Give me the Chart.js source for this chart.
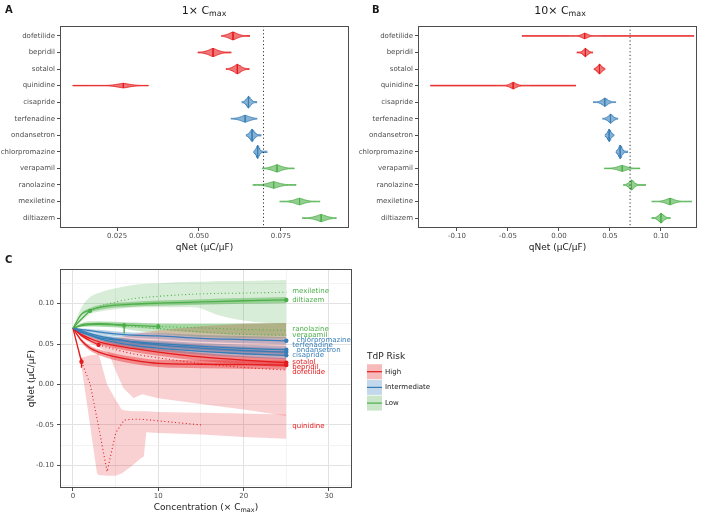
<!DOCTYPE html>
<html><head><meta charset="utf-8">
<script src="https://cdn.jsdelivr.net/npm/chart.js@4.4.1/dist/chart.umd.min.js"></script>
<style>
body{margin:0;width:708px;height:515px;position:relative;background:#fff;font-family:"DejaVu Sans",sans-serif;overflow:hidden}
canvas{position:absolute}
.t{position:absolute;color:#1a1a1a;white-space:nowrap;line-height:13px}
.c{transform:translateX(-50%)}
sub{font-size:0.72em;vertical-align:-0.3em;line-height:0}
</style></head><body>
<canvas id="cA" width="352" height="262" style="left:0;top:0;width:352px;height:262px"></canvas>
<canvas id="cB" width="356" height="262" style="left:352px;top:0;width:356px;height:262px"></canvas>
<canvas id="cC" width="708" height="253" style="left:0;top:262px;width:708px;height:253px"></canvas>
<div class="t" style="left:5px;top:3px;font-weight:bold;font-size:10px">A</div>
<div class="t" style="left:372px;top:3px;font-weight:bold;font-size:10px">B</div>
<div class="t" style="left:5px;top:253px;font-weight:bold;font-size:10px">C</div>
<div class="t c" style="left:204px;top:4px;font-size:11px">1× C<sub>max</sub></div>
<div class="t c" style="left:560px;top:4px;font-size:11px">10× C<sub>max</sub></div>
<div class="t c" style="left:206px;top:501px;font-size:9px">Concentration (× C<sub>max</sub>)</div>
<script>
// ---------------- DATA ----------------
const DRUGS = ['dofetilide','bepridil','sotalol','quinidine','cisapride','terfenadine','ondansetron','chlorpromazine','verapamil','ranolazine','mexiletine','diltiazem'];
const RISK  = ['High','High','High','High','Intermediate','Intermediate','Intermediate','Intermediate','Low','Low','Low','Low'];
const CONTROL = 0.0697;

// Panel A (1x Cmax): median, min, max, core half-width, violin half-height
const A_MED  = [0.0604,0.0543,0.0617,0.0269,0.0651,0.0641,0.0662,0.0679,0.0738,0.0728,0.0807,0.0873];
const A_MIN  = [0.0568,0.0496,0.0582,0.0114,0.0630,0.0597,0.0643,0.0666,0.0693,0.0664,0.0746,0.0815];
const A_MAX  = [0.0656,0.0599,0.0654,0.0347,0.0678,0.0678,0.0691,0.0709,0.0793,0.0797,0.0870,0.0920];
const A_CORE = [0.0031,0.0034,0.0026,0.0046,0.0015,0.0033,0.0016,0.0011,0.0034,0.0039,0.0035,0.0036];
const A_HALF = [0.24,0.25,0.29,0.14,0.35,0.21,0.37,0.40,0.22,0.20,0.20,0.22];
const A_XTICKS = [0.025,0.050,0.075];

// Panel B (10x Cmax)
const B_MED  = [0.0252,0.0259,0.0397,-0.0449,0.0449,0.0505,0.0492,0.0600,0.0620,0.0711,0.1089,0.1000];
const B_MIN  = [-0.0364,0.0174,0.0341,-0.1262,0.0334,0.0426,0.0449,0.0557,0.0443,0.0630,0.0908,0.0908];
const B_MAX  = [0.1325,0.0334,0.0456,0.0167,0.0564,0.0580,0.0548,0.0679,0.0797,0.0852,0.1302,0.1098];
const B_CORE = [0.0066,0.0049,0.0049,0.0072,0.0066,0.0056,0.0039,0.0039,0.0105,0.0056,0.0098,0.0056];
const B_HALF = [0.17,0.25,0.29,0.20,0.25,0.27,0.37,0.41,0.18,0.30,0.20,0.30];
const B_XTICKS = [-0.10,-0.05,0.00,0.05,0.10];

// Panel C: concentration-response
const C_X = [0,1,2,3,5,7,10,15,20,25];
const DILT_MED = [0.0695,0.087,0.092,0.095,0.098,0.0993,0.1005,0.102,0.1035,0.1045];
const DILT_LO  = [0.0695,0.0855,0.0895,0.0922,0.095,0.0962,0.0972,0.0985,0.0998,0.1008];
const DILT_HI  = [0.0695,0.0885,0.0945,0.0978,0.101,0.1024,0.1038,0.1055,0.107,0.1082];
const CHLO_MED = [0.0695,0.0679,0.0665,0.065,0.0625,0.061,0.060,0.057,0.0555,0.054];
const CHLO_LO  = [0.0695,0.0665,0.0645,0.0625,0.0595,0.0578,0.0563,0.0528,0.0510,0.0495];
const CHLO_HI  = [0.0695,0.0693,0.0685,0.0675,0.0655,0.0642,0.0637,0.0612,0.0600,0.0585];
const TERF_MED = [0.0695,0.0641,0.061,0.058,0.055,0.053,0.0505,0.047,0.0445,0.043];
const TERF_LO  = [0.0695,0.0625,0.059,0.0555,0.052,0.0497,0.0468,0.0428,0.0400,0.0383];
const TERF_HI  = [0.0695,0.0657,0.063,0.0605,0.058,0.0563,0.0542,0.0512,0.0490,0.0477];
const ONDA_MED = [0.0695,0.0662,0.063,0.060,0.056,0.0525,0.049,0.045,0.042,0.040];
const ONDA_LO  = [0.0695,0.0648,0.061,0.0577,0.053,0.0492,0.0453,0.0408,0.0375,0.0353];
const ONDA_HI  = [0.0695,0.0676,0.065,0.0623,0.059,0.0558,0.0527,0.0492,0.0465,0.0447];
const CISA_MED = [0.0695,0.0651,0.061,0.057,0.052,0.0485,0.045,0.041,0.038,0.036];
const CISA_LO  = [0.0695,0.0637,0.059,0.0547,0.049,0.0452,0.0413,0.0368,0.0335,0.0313];
const CISA_HI  = [0.0695,0.0665,0.063,0.0593,0.055,0.0518,0.0487,0.0452,0.0425,0.0407];
const SOTA_MED = [0.0695,0.0617,0.057,0.053,0.048,0.0445,0.040,0.034,0.030,0.027];
const SOTA_LO  = [0.0695,0.0600,0.0545,0.050,0.0445,0.0405,0.0355,0.029,0.0248,0.0215];
const SOTA_HI  = [0.0695,0.0634,0.0595,0.056,0.0515,0.0485,0.0445,0.039,0.0352,0.0325];
const BEPR_MED = [0.0695,0.0543,0.045,0.040,0.034,0.030,0.026,0.025,0.0245,0.024];
const BEPR_LO  = [0.0695,0.0520,0.042,0.0365,0.030,0.0257,0.0215,0.020,0.0193,0.0185];
const BEPR_HI  = [0.0695,0.0566,0.048,0.0435,0.038,0.0343,0.0305,0.030,0.0297,0.0295];

const VERA_SX = [0,1,2,3,4,5,6];
const VERA_SY = [0.0695,0.0738,0.075,0.0752,0.0748,0.074,0.073];
const VERA_DX = [6,8,10,15,20,25];
const VERA_DY = [0.073,0.071,0.069,0.065,0.062,0.061];
const VERA_BX = [0,1,2,3,5,6,7,10,15,20,25];
const VERA_LO = [0.0695,0.0715,0.072,0.0718,0.0705,0.069,0.067,0.063,0.059,0.0575,0.057];
const VERA_HI = [0.0695,0.076,0.078,0.078,0.0775,0.077,0.0765,0.0755,0.0755,0.0758,0.076];

const RANO_SX = [0,1,2,3,5,7,10];
const RANO_SY = [0.0695,0.0728,0.074,0.0742,0.0738,0.073,0.0716];
const RANO_DX = [10,15,20,25];
const RANO_DY = [0.0716,0.070,0.068,0.067];
const RANO_BX = [0,1,2,3,5,7,10,15,20,25];
const RANO_LO = [0.0695,0.0712,0.0718,0.0718,0.0712,0.070,0.068,0.064,0.0615,0.060];
const RANO_HI = [0.0695,0.0745,0.0762,0.0768,0.0765,0.076,0.075,0.0748,0.0748,0.075];

const MEXI_SX = [0,1,2];
const MEXI_SY = [0.0695,0.081,0.091];
const MEXI_DX = [2,3,5,7,10,15,20,25];
const MEXI_DY = [0.091,0.096,0.102,0.106,0.109,0.112,0.113,0.114];
const MEXI_BX = [0,1,2,3,5,7,10,14,15,17,20,25];
const MEXI_LO = [0.0695,0.078,0.087,0.090,0.093,0.095,0.0955,0.0955,0.094,0.086,0.079,0.074];
const MEXI_HI = [0.0695,0.095,0.108,0.113,0.119,0.123,0.125,0.127,0.127,0.128,0.128,0.129];

const DOFE_SX = [0,1,2,3];
const DOFE_SY = [0.0695,0.0604,0.054,0.049];
const DOFE_DX = [3,5,7,10,15,20,25];
const DOFE_DY = [0.049,0.043,0.038,0.033,0.026,0.021,0.0178];
const DOFE_BX = [0,1,2,3,4,4.3,5,5.9,7.1,8.1,10,15,20,25];
const DOFE_LO = [0.0695,0.058,0.051,0.046,0.040,0.036,0.017,-0.0045,-0.0166,-0.012,-0.017,-0.024,-0.031,-0.039];
const DOFE_HI = [0.0695,0.063,0.057,0.052,0.054,0.055,0.057,0.059,0.062,0.064,0.067,0.072,0.075,0.076];

const QUIN_SX = [0,1];
const QUIN_SY = [0.0695,0.028];
const QUIN_DX = [1,2,3,4,5,6,7,8,10,15];
const QUIN_DY = [0.028,0.001,-0.052,-0.108,-0.060,-0.044,-0.043,-0.043,-0.045,-0.050];
const QUIN_BX = [0,1,2,2.8,3,4,5,5.7,6,7,8,8.3,8.6,10,15,20,25];
const QUIN_LO = [0.0695,0.022,-0.05,-0.109,-0.112,-0.113,-0.113,-0.110,-0.108,-0.100,-0.091,-0.089,-0.059,-0.060,-0.062,-0.065,-0.067];
const QUIN_HI = [0.0695,0.033,0.036,0.037,0.038,0.0,-0.019,-0.031,-0.032,-0.033,-0.033,-0.033,-0.033,-0.034,-0.035,-0.036,-0.037];

// point ranges
const MARK_DRUG = ['quinidine','dofetilide','mexiletine','verapamil','ranolazine','diltiazem','chlorpromazine','terfenadine','ondansetron','cisapride','sotalol','bepridil'];
const MARK_X  = [1,3,2,6,10,25,25,25,25,25,25,25];
const MARK_Y  = [0.028,0.049,0.091,0.073,0.0716,0.1045,0.054,0.043,0.040,0.036,0.027,0.024];
const MARK_LO = [0.0206,0.047,0.089,0.063,0.069,0.1035,0.053,0.041,0.0375,0.034,0.025,0.0215];
const MARK_HI = [0.032,0.051,0.093,0.076,0.075,0.1055,0.0555,0.045,0.0425,0.038,0.029,0.0265];

// text labels at line ends
const C_LABELS = ['mexiletine','diltiazem','ranolazine','verapamil','chlorpromazine','terfenadine','ondansetron','cisapride','sotalol','bepridil','dofetilide','quinidine'];
const C_LABEL_X = [25.7,25.7,25.7,25.7,26.2,25.7,26.2,25.7,25.7,25.7,25.7,25.7];
const C_LABEL_Y = [0.115,0.1047,0.0683,0.061,0.0542,0.0482,0.0421,0.036,0.0279,0.0218,0.0149,-0.0518];
const C_XTICKS = [0,5,10,15,20,25,30];
const C_YTICKS = [-0.125,-0.1,-0.075,-0.05,-0.025,0,0.025,0.05,0.075,0.1,0.125];
const LEGEND_ITEMS = ['High','Intermediate','Low'];

// ---------------- STYLE ----------------
const RISK_COLOR = {High:'#E41A1C', Intermediate:'#377EB8', Low:'#4DAF4A'};
const riskOf = name => RISK[DRUGS.indexOf(name)];
function rgba(hex,a){const n=parseInt(hex.slice(1),16);return 'rgba('+(n>>16)+','+((n>>8)&255)+','+(n&255)+','+a+')';}
Chart.defaults.font.family = '"DejaVu Sans", sans-serif';
Chart.defaults.color = '#4D4D4D';
const TICKFONT = {size:7};

const framePlugin = {
  id:'frame',
  afterDraw(chart){
    const {ctx, chartArea:a} = chart;
    ctx.save(); ctx.strokeStyle='#4D4D4D'; ctx.lineWidth=1;
    ctx.strokeRect(Math.round(a.left)+0.5, Math.round(a.top)+0.5, Math.round(a.right-a.left)-1, Math.round(a.bottom-a.top)-1);
    ctx.restore();
  }
};

// violin outline (shape only) from the read summary values
function profile(c, lo, hi, w){
  const xs=[lo,hi,c];
  const N=22;
  for(let i=1;i<=N;i++){const d=(i/N)*2.3*w; if(c-d>lo) xs.push(c-d); if(c+d<hi) xs.push(c+d);}
  xs.sort((a,b)=>a-b);
  return xs.map(x=>({x, h:Math.max(Math.exp(-2*Math.pow(Math.abs(x-c)/w,1.4)),0.1)}));
}
function buildViolins(MED,MIN,MAX,CORE,HALF){
  const ds=[];
  DRUGS.forEach((name,i)=>{
    const col=RISK_COLOR[RISK[i]];
    const p=profile(MED[i],MIN[i],MAX[i],CORE[i]);
    ds.push({label:name, data:p.map(q=>({x:q.x,y:i-HALF[i]*q.h})), borderColor:col, borderWidth:0.8, backgroundColor:rgba(col,0.6), fill:'+1', order:2});
    ds.push({label:name+'-lo', data:p.map(q=>({x:q.x,y:i+HALF[i]*q.h})), borderColor:col, borderWidth:0.8, fill:false, order:2});
    ds.push({label:name+'-med', data:[{x:MED[i],y:i-HALF[i]},{x:MED[i],y:i+HALF[i]}], borderColor:col, borderWidth:0.9, fill:false, order:1});
  });
  ds.push({label:'control', data:[{x:CONTROL,y:-0.6},{x:CONTROL,y:11.6}], borderColor:'#333', borderWidth:1, borderDash:[1.2,2.4], fill:false, order:0});
  return ds;
}
function violinConfig(datasets, xmin, xmax, xticks, fmt, yw, padR){
  return {
    type:'line',
    data:{datasets},
    options:{
      animation:false, responsive:false, events:[],
      layout:{padding:{top:26,right:padR,left:0,bottom:0}},
      elements:{point:{radius:0}, line:{tension:0}},
      plugins:{legend:{display:false}, tooltip:{enabled:false}},
      scales:{
        x:{type:'linear', min:xmin, max:xmax,
           afterBuildTicks:s=>{s.ticks=xticks.map(v=>({value:v}));},
           afterFit:s=>{s.height=34;},
           ticks:{font:TICKFONT, color:'#4D4D4D', padding:1, maxRotation:0, autoSkip:false, callback:v=>fmt(v)},
           grid:{drawOnChartArea:false, drawTicks:true, tickLength:3, tickColor:'#4D4D4D'},
           border:{display:false},
           title:{display:true, text:'qNet (µC/µF)', color:'#1a1a1a', font:{size:9}, padding:{top:0,bottom:8.6}}},
        y:{type:'linear', reverse:true, min:-0.6, max:11.6,
           afterBuildTicks:s=>{s.ticks=DRUGS.map((d,i)=>({value:i}));},
           afterFit:s=>{s.width=yw;},
           ticks:{font:TICKFONT, color:'#4D4D4D', padding:2, autoSkip:false, callback:v=>DRUGS[v]},
           grid:{drawOnChartArea:false, drawTicks:true, tickLength:3, tickColor:'#4D4D4D'},
           border:{display:false}}
      }
    },
    plugins:[framePlugin]
  };
}
new Chart(document.getElementById('cA'), violinConfig(buildViolins(A_MED,A_MIN,A_MAX,A_CORE,A_HALF), 0.00756, 0.0958, A_XTICKS, v=>v.toFixed(3), 60, 3));
new Chart(document.getElementById('cB'), violinConfig(buildViolins(B_MED,B_MIN,B_MAX,B_CORE,B_HALF), -0.1382, 0.1353, B_XTICKS, v=>v.toFixed(2), 66, 11));

// ---------------- PANEL C ----------------
const cds=[];
function pts(x,y){return x.map((v,i)=>({x:v,y:y[i]}));}
function addBand(x,lo,hi,col,a,smooth){
  const mode = smooth?'monotone':'default';
  cds.push({data:pts(x,hi), borderColor:'transparent', borderWidth:0, backgroundColor:rgba(col,a), fill:'+1', order:6, cubicInterpolationMode:mode});
  cds.push({data:pts(x,lo), borderColor:'transparent', borderWidth:0, fill:false, order:6, cubicInterpolationMode:mode});
}
function addLine(x,y,col,dotted,smooth){
  cds.push({data:pts(x,y), borderColor:col, borderWidth:dotted?1.1:1.3, borderDash:dotted?[1,2.6]:[], fill:false, order:3, cubicInterpolationMode:smooth?'monotone':'default'});
}
const R=RISK_COLOR.High, Bl=RISK_COLOR.Intermediate, G=RISK_COLOR.Low;
addBand(QUIN_BX,QUIN_LO,QUIN_HI,R,0.2,false);
addBand(DOFE_BX,DOFE_LO,DOFE_HI,R,0.2,false);
addBand(MEXI_BX,MEXI_LO,MEXI_HI,G,0.22,true);
addBand(VERA_BX,VERA_LO,VERA_HI,G,0.3,true);
addBand(RANO_BX,RANO_LO,RANO_HI,G,0.3,true);
addBand(C_X,DILT_LO,DILT_HI,G,0.45,true);
addBand(C_X,CHLO_LO,CHLO_HI,Bl,0.35,true);
addBand(C_X,TERF_LO,TERF_HI,Bl,0.35,true);
addBand(C_X,ONDA_LO,ONDA_HI,Bl,0.35,true);
addBand(C_X,CISA_LO,CISA_HI,Bl,0.35,true);
addBand(C_X,SOTA_LO,SOTA_HI,R,0.4,true);
addBand(C_X,BEPR_LO,BEPR_HI,R,0.4,true);
addLine(C_X,DILT_MED,G,false,true);
addLine(C_X,CHLO_MED,Bl,false,true);
addLine(C_X,TERF_MED,Bl,false,true);
addLine(C_X,ONDA_MED,Bl,false,true);
addLine(C_X,CISA_MED,Bl,false,true);
addLine(C_X,SOTA_MED,R,false,true);
addLine(C_X,BEPR_MED,R,false,true);
addLine(VERA_SX,VERA_SY,G,false,true); addLine(VERA_DX,VERA_DY,G,true,true);
addLine(RANO_SX,RANO_SY,G,false,true); addLine(RANO_DX,RANO_DY,G,true,true);
addLine(MEXI_SX,MEXI_SY,G,false,true); addLine(MEXI_DX,MEXI_DY,G,true,true);
addLine(DOFE_SX,DOFE_SY,R,false,true); addLine(DOFE_DX,DOFE_DY,R,true,true);
addLine(QUIN_SX,QUIN_SY,R,false,false); addLine(QUIN_DX,QUIN_DY,R,true,false);
['High','Intermediate','Low'].forEach(rk=>{
  const col=RISK_COLOR[rk]; const seg=[]; const mk=[];
  MARK_DRUG.forEach((d,i)=>{ if(riskOf(d)!==rk) return;
    seg.push({x:MARK_X[i],y:MARK_LO[i]},{x:MARK_X[i],y:MARK_HI[i]},{x:MARK_X[i],y:null});
    mk.push({x:MARK_X[i],y:MARK_Y[i]});
  });
  cds.push({data:seg, borderColor:col, borderWidth:1.4, fill:false, spanGaps:false, order:2});
  cds.push({data:mk, showLine:false, pointRadius:2.2, pointBackgroundColor:col, pointBorderColor:col, pointBorderWidth:0, order:1});
});

const isMul=(v,s)=>Math.abs(Math.round(v/s)*s - v) < 1e-9;
const cExtras = {
  id:'cExtras',
  afterDraw(chart){
    const {ctx, scales:{x,y}, chartArea:a} = chart;
    ctx.save();
    ctx.font='7px "DejaVu Sans"'; ctx.textBaseline='middle'; ctx.textAlign='left';
    C_LABELS.forEach((t,i)=>{ctx.fillStyle=RISK_COLOR[riskOf(t)]; ctx.fillText(t, x.getPixelForValue(C_LABEL_X[i]), y.getPixelForValue(C_LABEL_Y[i]));});
    const lx=a.right+15;
    ctx.fillStyle='#1a1a1a'; ctx.font='9px "DejaVu Sans"';
    ctx.fillText('TdP Risk', lx, a.top+87);
    LEGEND_ITEMS.forEach((t,i)=>{
      const cy=a.top+102.5+i*15.7; const col=RISK_COLOR[t];
      ctx.fillStyle=rgba(col,0.3); ctx.fillRect(lx,cy-7.5,15,15);
      ctx.strokeStyle=col; ctx.lineWidth=1.2; ctx.beginPath(); ctx.moveTo(lx,cy); ctx.lineTo(lx+15,cy); ctx.stroke();
      ctx.fillStyle='#1a1a1a'; ctx.font='7px "DejaVu Sans"'; ctx.fillText(t, lx+18, cy);
    });
    ctx.restore();
  }
};
new Chart(document.getElementById('cC'), {
  type:'line',
  data:{datasets:cds},
  options:{
    animation:false, responsive:false, events:[],
    layout:{padding:{top:3,right:356,left:0,bottom:0}},
    elements:{point:{radius:0}, line:{tension:0}},
    plugins:{legend:{display:false}, tooltip:{enabled:false}},
    scales:{
      x:{type:'linear', min:-1.52, max:32.7,
         afterBuildTicks:s=>{s.ticks=C_XTICKS.map(v=>({value:v}));},
         afterFit:s=>{s.height=27;},
         ticks:{font:TICKFONT, color:'#4D4D4D', padding:1, maxRotation:0, autoSkip:false, callback:v=>isMul(v,10)?String(v):''},
         grid:{color:c=>isMul(c.tick.value,10)?'#E2E2E2':'#EEEEEE', lineWidth:c=>isMul(c.tick.value,10)?1:0.7,
               tickColor:c=>isMul(c.tick.value,10)?'#4D4D4D':'rgba(0,0,0,0)', tickLength:3},
         border:{display:false}},
      y:{type:'linear', min:-0.128, max:0.1425,
         afterBuildTicks:s=>{s.ticks=C_YTICKS.map(v=>({value:v}));},
         afterFit:s=>{s.width=60;},
         ticks:{font:TICKFONT, color:'#4D4D4D', padding:3, autoSkip:false, callback:v=>isMul(v,0.05)?v.toFixed(2):''},
         grid:{color:c=>isMul(c.tick.value,0.05)?'#E2E2E2':'#EEEEEE', lineWidth:c=>isMul(c.tick.value,0.05)?1:0.7,
               tickColor:c=>isMul(c.tick.value,0.05)?'#4D4D4D':'rgba(0,0,0,0)', tickLength:3},
         border:{display:false},
         title:{display:true, text:'qNet (µC/µF)', color:'#1a1a1a', font:{size:9}, padding:{top:26.6,bottom:0}}}
    }
  },
  plugins:[framePlugin, cExtras]
});
</script>
</body></html>
